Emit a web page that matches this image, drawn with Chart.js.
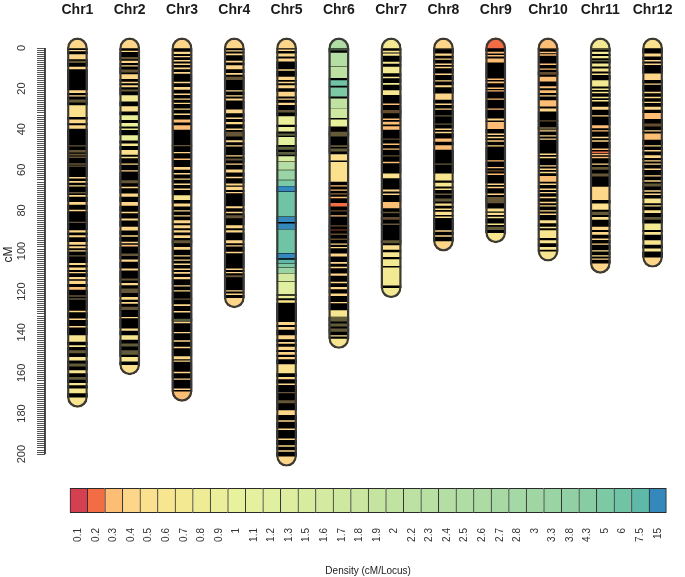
<!DOCTYPE html>
<html><head><meta charset="utf-8">
<script src="https://cdn.jsdelivr.net/npm/chart.js@4"></script>
<style>html,body{margin:0;padding:0;background:#fff;}canvas{display:block;}</style>
</head><body>
<canvas id="map" width="685" height="475"></canvas>
<canvas id="key" width="685" height="102"></canvas>
<script>
// ---------------- DATA ----------------
const chromNames = ['Chr1','Chr2','Chr3','Chr4','Chr5','Chr6','Chr7','Chr8','Chr9','Chr10','Chr11','Chr12'];
const chromLengths = [172,156,169,123,201,143,118,95,91,100,106,103];
const capTopLevel = [0.4,0.4,0.4,0.4,0.4,2.5,0.7,0.4,0.2,0.3,0.7,0.5];
const capBottomLevel = [0.6,0.5,0.3,0.4,0.4,0.6,0.7,0.4,0.6,0.6,0.4,0.4];
const cmTickLabels = [0,20,40,60,80,100,120,140,160,180,200];
const densityLevels = [0.1,0.2,0.3,0.4,0.5,0.6,0.7,0.8,0.9,1,1.1,1.2,1.3,1.5,1.6,1.7,1.8,1.9,2,2.2,2.3,2.4,2.5,2.6,2.7,2.8,3,3.3,3.8,4.3,5,6,7.5,15];

// gaps between markers: [start cM, end cM, density level, 1 = packed with markers]
const chr1Gaps = [[1.0,1.6,0.4],[3.0,5.6,0.4],[6.2,7.5,0.4,1],[9.2,10.5,0.4],[20.7,22.3,0.4],[23.2,24.0,0.4],[25.3,26.9,0.5,1],[28.1,34.1,0.5],[35.1,37.1,0.4],[37.9,39.9,0.4],[47.8,48.6,0.4,1],[50.2,51.5,0.4,1],[52,53,0.4,1],[53.4,54.3,0.4,1],[56.8,57.5,0.4,1],[57.8,58.5,0.4,1],[63.4,64.4,0.4],[65.4,66.4,0.4],[67.5,68.3,0.4],[70.8,71.8,0.4,1],[72.3,73.3,0.4],[75.7,77.3,0.4],[79.8,80.3,0.4],[85.5,86.2,0.4,1],[89.7,91,0.4],[92.1,93.3,0.4],[95.4,97,0.4],[97.5,98.7,0.4],[99.5,100.3,0.4],[102,102.8,0.4,1],[105.8,106.9,0.4],[108,109.4,0.4],[110.2,111,0.4],[112.7,114,0.4],[114.6,116.3,0.4],[117.6,119.2,0.3],[121.7,122.6,0.4,1],[123.2,124.1,0.4,1],[129.4,130.2,0.4],[133.2,134,0.4],[137,137.6,0.4],[141.4,144.7,0.6],[146.3,147.4,0.6],[148.8,150.4,0.5,1],[152.1,154,0.6],[155.3,157,0.6,1],[158.6,160.3,0.6],[161.9,163.5,0.6,1],[164.9,166.2,0.6],[167.6,170.1,0.6]];
const chr2Gaps = [[1.3,2.0,0.4],[4.3,5.6,0.4,1],[6.2,7.5,0.4],[8.4,9.2,0.4],[10.5,12.2,0.4,1],[12.8,15.4,0.4],[16.6,17.4,0.4],[18.2,19.4,0.4],[20.3,21.5,0.5,1],[23.2,26.4,0.7],[28.6,31.4,0.5],[33,35.5,0.9],[36.8,38.8,0.9],[39.6,40.4,0.8],[42.9,45.7,0.9],[46.9,48.3,0.6],[50.2,52.7,0.5],[53.5,54.3,0.5],[56.8,57.6,0.4],[60.1,60.9,0.4],[65,66.7,0.4,1],[68.3,69.1,0.4],[71.6,73.3,0.4],[75.7,77.8,0.4],[80.6,81.4,0.4],[83.9,85.1,0.4],[88,90,0.4],[92.1,93,0.4],[95.4,96.2,0.4],[96.8,97.9,0.3],[101.1,102.5,0.4,1],[104.1,105.4,0.4],[108.5,109.7,0.4],[113.4,114.6,0.4,1],[115.6,116.9,0.4],[118.4,120.8,0.4,1],[122.5,124.1,0.4],[125,126.1,0.4],[127.4,129.1,0.4,1],[132.4,133.2,0.4],[138.1,139.3,0.5],[141.4,143.8,0.6],[145.5,147.1,0.6,1],[148.8,151.2,0.6,1],[152.1,154.5,0.6]];
const chr3Gaps = [[1.8,3.0,0.4],[3.9,4.6,0.4],[5.9,6.7,0.4],[7.5,8.5,0.4],[9.5,10.5,0.4],[11.7,12.8,0.4],[16.6,17.4,0.4],[19.1,20.7,0.4],[22.3,23.2,0.4],[24.8,25.6,0.4],[26.9,27.6,0.4],[29.7,30.5,0.4],[32.2,33,0.4],[35.1,36.8,0.3],[37.9,40.4,0.3],[47.8,48.4,0.4,1],[51.1,51.9,0.4],[54.3,55.2,0.3],[58.5,60.1,0.4],[61.7,62.2,0.4],[64.2,65,0.4],[66.7,67.5,0.4],[69.1,70,0.4],[72.4,74.9,0.6],[76.5,78.2,0.4],[79.8,80.6,0.4],[82.3,83.1,0.4],[84.7,86.4,0.4],[87.2,88.8,0.4],[89.7,91,0.4],[92.1,93.7,0.4],[94.6,96.2,0.4,1],[97.9,99.5,0.4],[102,102.8,0.4],[104.1,104.8,0.4],[106.1,107,0.4],[108.5,109.4,0.4],[110.2,111.3,0.4],[112.7,114,0.4],[116.7,117.6,0.4],[119.2,120,0.4],[123.3,124.1,0.4,1],[126.1,127.1,0.4],[129.4,130.4,0.4],[133.2,134.8,1.5,1],[134.8,135.6,0.4],[139.8,140.6,0.4],[143.8,144.7,0.4],[147.1,147.9,0.4],[151.7,153.4,0.4],[153.9,154.5,0.4],[159.4,160.3,0.4],[162.7,163.5,0.4],[167.6,168.5,0.4]];
const chr4Gaps = [[1,1.8,0.4],[2.6,3.6,0.4],[6.2,7.2,0.4],[8.4,10.5,0.4],[12.2,13.3,0.4],[14.1,15.8,0.4,1],[20.7,21.5,0.4],[23.2,24,0.4],[24.8,26,0.4],[30.2,32.2,0.4],[34.1,35.1,0.4],[36.3,37.6,0.4],[39.6,40.4,0.4],[41.2,43.7,0.4,1],[45.3,46.5,0.4],[47.8,48.6,0.4],[52.7,53.5,0.4],[54.3,55.5,0.4,1],[56.8,57.6,0.4],[59.8,61.4,0.4],[63.4,64.2,0.4],[66.7,67.8,0.4],[68.3,70,0.4],[70.8,71.6,0.4],[77.8,79,0.4],[80.6,81.4,0.4],[82.3,83.9,0.4,1],[87.2,88.8,0.4],[89.7,91,0.4],[94.6,96.2,0.4],[97,97.9,0.4],[100.3,101.1,0.4],[108.5,109.4,0.4],[110.2,111,0.4],[111.8,113,0.4,1],[119.2,120,0.4],[120.8,121.7,0.4]];
const chr5Gaps = [[0.7,1.6,0.4],[2.6,4.3,0.4],[5.1,6.7,0.4],[10.5,11.2,0.4],[14.1,15.8,0.4],[16.6,17.4,0.4],[18.2,19.9,0.4],[21.5,24,0.4],[24.8,25.6,0.4],[26.9,28.1,0.4],[30.5,31.9,0.4,1],[33.5,37.9,0.9],[38.8,41.2,0.9],[42,43.3,0.9,1],[43.7,47.8,1.1],[48.6,50.2,1,1],[51.1,52.7,1,1],[53.2,56,1.5],[56,60.1,2.4],[60.1,65,3.3],[65,68,5],[68,70.8,15],[70.8,83.1,6],[83.1,85.8,15],[86.3,89.3,15],[89.3,101.1,6],[101.1,103.6,15],[104.2,106,7.5],[106,108,5],[108,111,3.3],[111,115,1.6],[115,121.4,1.2],[121.9,123.3,0.9],[124.1,125.5,0.6],[134.8,136.5,0.4],[137.3,138.9,0.4],[141.4,143.5,0.4],[144.7,145.8,0.4],[147.1,148.8,0.4],[149.6,151.2,0.4],[152.1,153.4,0.4],[155.7,160.3,0.5],[161.9,163.2,0.4],[165.2,166,0.4],[169.3,170.1,0.4,1],[173.4,175,0.4,1],[178.3,180.8,0.4],[183.3,184.1,0.4],[187.3,188.2,0.4],[192.3,193.1,0.4],[195.6,196.4,0.4],[198,198.9,0.4]];
const chr6Gaps = [[0,1.3,2.5,1],[2.3,9,2.4],[9,14.9,2.2],[15.8,18.7,6],[19.4,24,5],[24.8,30,2],[30,34.6,1.7],[35.1,38.8,1],[41.2,43.7,0.5,1],[47.8,48.9,0.5,1],[49.4,51.1,0.6,1],[52.2,55.5,0.5],[56,65.9,0.5],[67.5,68.3,0.3],[69.6,70.4,0.3],[71.3,72.4,0.3,1],[73.3,74,0.3],[76.2,78.2,0.2],[79.8,80.6,0.3,1],[82.3,83.1,0.3],[87.2,88,0.3,1],[89.3,90,0.2,1],[91.3,92.1,0.3,1],[93.7,94.6,0.3,1],[96.2,97,0.4],[97.9,98.7,0.4],[101.1,102.8,0.4],[105.3,106.4,0.4],[107.7,108.5,0.4],[111,112.3,0.4],[115.1,115.9,0.4],[117.6,118.9,0.4],[120.8,122.2,0.4],[125,125.8,0.4],[129.1,132.4,0.6],[132.4,134.8,0.6,1],[135.6,137.3,0.6,1],[138.1,139.8,0.6,1],[141.4,142.2,0.5]];
const chr7Gaps = [[1.3,2.3,0.6],[2.6,3.9,0.6],[6.7,7.9,0.6],[9.2,12.5,0.7],[14.1,14.9,0.6],[17.1,18.2,0.7],[20.7,23.2,0.6],[27.2,28.1,0.3],[30.5,32.2,0.3,1],[34.6,35.6,0.3],[36.2,37.8,0.3],[38.4,40.4,0.3],[44.5,45.3,0.3,1],[46.9,47.8,0.3],[49.4,50.2,0.3],[52.7,53.5,0.3,1],[56,56.8,0.3],[61.7,64.2,0.5],[69.6,70.8,0.4],[71.6,72.4,0.4],[75.7,79,0.3],[80.6,81.4,0.4,1],[83.1,84.7,0.3,1],[86.4,87.2,0.4,1],[94.6,96.2,0.5,1],[97,99.5,0.5],[100.5,103,0.6],[104,107.5,0.7],[108,117,0.7]];
const chr8Gaps = [[0,0.6,0.4,1],[2.6,3.9,0.4],[5.1,5.9,0.4],[7.5,8.4,0.4],[9.2,10,0.4],[12.5,13.3,0.4],[15.8,16.6,0.4],[18.2,19.4,0.4],[22.3,25.6,0.4],[27.2,28.1,0.4],[29.7,30.5,0.4],[33,33.8,0.4,1],[37.1,37.9,0.4,1],[39.6,40.4,0.4],[41.2,42,0.4],[44.5,46.2,0.3],[47.8,50.2,0.3],[56.8,57.6,0.5,1],[61.7,65.4,0.6],[66.3,68.3,0.6],[69.1,70,0.5],[71.6,72.4,0.5,1],[74,75.7,0.5,1],[76.5,77.8,0.5],[79,79.8,0.5],[80.6,82.3,0.5],[83.1,83.6,0.5],[89.7,90.5,0.4],[92.1,93,0.4]];
const chr9Gaps = [[1.8,2.8,0.3],[3.4,4.3,0.3],[5.1,7.2,0.3],[14.9,15.8,0.3],[16.4,17.4,0.3],[19.4,20.3,0.3],[20.7,21.5,0.3],[24.8,25.6,0.3],[29.7,30.5,0.3],[34.6,35.8,0.4],[36.3,40,0.3],[42,42.9,0.4],[43.7,44.5,0.4],[45.3,46.2,0.4],[47.8,48.6,0.4],[55.2,56,0.3],[58.5,59.3,0.3],[60.1,60.9,0.3,1],[61.7,62.6,0.3],[66.7,67.5,0.4],[68.3,69.1,0.4],[71.6,72.4,0.4],[73.3,76.5,0.4,1],[79,80.6,0.5],[81.1,82.3,0.5],[83.1,83.9,0.5],[86.4,87.2,0.5],[88,89.7,0.6,1]];
const chr10Gaps = [[0,0.6,0.3,1],[1.8,2.6,0.3],[3,3.9,0.3],[7.5,8.4,0.3],[10,10.8,0.3],[11.7,13.3,0.3,1],[14.1,16.6,0.3],[18.7,19.9,0.3],[20.7,22.3,0.3],[23.2,24,0.4],[25.6,28.9,0.3],[29.7,31.4,0.4],[35.5,36.3,0.3,1],[38.8,40.4,0.4,1],[40.4,41.2,0.4],[42.9,43.7,0.4],[44.5,45.3,0.4],[51.9,52.7,0.4],[53.5,54.3,0.4],[57.6,58.5,0.4],[59.3,60.1,0.4],[60.9,61.7,0.4],[63,65.9,0.3],[66.7,67.5,0.4],[69.1,70,0.4],[70.8,71.6,0.4],[73.3,74,0.4],[75.7,76.5,0.4],[77.3,78.2,0.4],[79.8,80.6,0.4],[81.4,82.3,0.4],[84.7,86.4,0.5],[88,88.8,0.5],[89.7,93.7,0.6],[94.6,96.2,0.6],[97.9,99.5,0.6]];
const chr11Gaps = [[0,1,0.7,1],[1.8,3,0.7],[3.9,5.1,0.7],[5.9,6.7,0.6,1],[7.5,9.2,0.7],[10,11.7,0.6],[12.5,13.3,0.6],[15.8,19.1,0.7],[19.9,20.7,0.7],[21.5,22.3,0.6],[24,24.8,0.6],[25.6,26.4,0.6],[28.9,30.5,0.4],[33,33.8,0.4],[37.9,39.6,0.3],[40.4,41.2,0.3],[43.7,44.5,0.4],[45.3,46.2,0.4],[49.4,50.3,0.3],[50.9,51.8,0.2],[52.2,52.7,0.3],[53.5,54.3,0.3],[56.8,57.6,0.4],[58.5,60.1,0.4,1],[61.7,63.4,0.4,1],[68.3,74.9,0.4],[76.5,79.8,0.5],[80.6,82.3,0.5,1],[83.1,84.7,0.5],[88,89.7,0.4],[90.5,92.1,0.4],[93.7,94.6,0.4],[96.2,97,0.4],[99.5,100.3,0.5],[102,102.8,0.5],[103.6,104.4,0.4]];
const chr12Gaps = [[2.6,4.3,0.4],[5.9,6.7,0.4],[7.5,8.4,0.4],[12.5,15.8,0.4],[17.4,18.2,0.4],[21.5,22.3,0.4],[24,24.8,0.4],[26.4,27.2,0.4],[28.9,30.5,0.4],[31.9,35.1,0.3],[37.1,38.8,0.3,1],[40.4,41.2,0.4],[42,45.3,0.3],[47.8,48.6,0.4],[50.2,51.1,0.4],[52.7,54.3,0.4],[55.2,56,0.4],[56.8,57.6,0.4],[59.3,60.1,0.4],[62.6,63.4,0.4],[65,65.9,0.4],[66.7,68.3,0.4,1],[70,70.8,0.4],[71.6,72.4,0.4],[74,76.5,0.6],[77.3,78.2,0.5],[79.8,81.4,0.5],[83.1,84.7,0.5,1],[86.4,89.7,0.7],[90.5,92.1,0.6],[94.6,97,0.6],[98.7,100.3,0.6]];
const chromGaps = [chr1Gaps,chr2Gaps,chr3Gaps,chr4Gaps,chr5Gaps,chr6Gaps,chr7Gaps,chr8Gaps,chr9Gaps,chr10Gaps,chr11Gaps,chr12Gaps];

// ---------------- STYLE ----------------
const densityColors = ['#d4404f','#f26c44','#fcbd74','#fdd689','#fbe08d','#f7e590','#f2e992','#eeec95','#ebef99','#e8f19c','#e5f19e','#e1f0a0','#ddeea0','#d8eca0','#d3eaa0','#cfe8a0','#cae6a0','#c5e4a0','#c0e3a1','#bce1a2','#b8e0a2','#b4dea3','#b0dda3','#acdba4','#a8d9a4','#a4d8a4','#a0d6a4','#9ad3a4','#91d0a4','#88cca4','#7dc8a5','#70c3a5','#5fb9a8','#3588bc'];
const CAP_CM = 5;          // height of rounded chromosome ends (axis units)
const BAR_PX = 20;         // chromosome width
const MARKER_HALF = 0.25;  // half thickness of a marker line (axis units)
const X_MIN = 0.38, X_MAX = 12.62;

function levelColor(level, packed) {
  const hex = densityColors[densityLevels.indexOf(level)] || '#fdd689';
  if (!packed) return hex;
  const n = parseInt(hex.slice(1), 16), f = 0.4;
  const r = Math.round(((n >> 16) & 255) * f), g = Math.round(((n >> 8) & 255) * f), b = Math.round((n & 255) * f);
  return `rgb(${r},${g},${b})`;
}

Chart.defaults.font.family = "'Liberation Sans', Arial, Helvetica, sans-serif";
Chart.defaults.color = '#333';

const capPts = [], capCols = [], bodyPts = [], gapPts = [], gapCols = [], outlinePts = [];
chromLengths.forEach((L, i) => {
  const x = i + 1;
  capPts.push({x, y: [-CAP_CM, CAP_CM]}); capCols.push(levelColor(capTopLevel[i]));
  capPts.push({x, y: [L - CAP_CM, L + CAP_CM]}); capCols.push(levelColor(capBottomLevel[i]));
  bodyPts.push({x, y: [0, L]});
  chromGaps[i].forEach(g => {
    let a = g[0] + MARKER_HALF, b = g[1] - MARKER_HALF;
    if (b - a < 0.35) { const m = (g[0] + g[1]) / 2; a = m - 0.175; b = m + 0.175; }
    gapPts.push({x, y: [a, b]}); gapCols.push(levelColor(g[2], g[3] === 1));
  });
  outlinePts.push({x, y: [-CAP_CM, L + CAP_CM]});
});

const barCommon = {type: 'bar', barThickness: BAR_PX, grouped: false, borderSkipped: false};

new Chart(document.getElementById('map'), {
  type: 'bar',
  data: {
    datasets: [
      {...barCommon, data: outlinePts, order: 0, backgroundColor: 'rgba(0,0,0,0)', borderColor: '#3a3a3a', borderWidth: 1.5, borderRadius: 10},
      {...barCommon, data: gapPts, order: 1, backgroundColor: gapCols, borderWidth: 0},
      {...barCommon, data: bodyPts, order: 2, backgroundColor: '#000', borderWidth: 0},
      {...barCommon, data: capPts, order: 3, backgroundColor: capCols, borderWidth: 0, borderRadius: 10},
      {type: 'line', data: [{x: X_MIN, y: cmTickLabels[0]}, {x: X_MIN, y: cmTickLabels[cmTickLabels.length - 1]}], order: 4, borderColor: '#333', borderWidth: 1, pointRadius: 0, clip: false}
    ]
  },
  options: {
    responsive: false, animation: false, events: [],
    plugins: {legend: {display: false}, tooltip: {enabled: false}},
    layout: {padding: 0},
    scales: {
      x: {
        type: 'linear', position: 'top', min: X_MIN, max: X_MAX, offset: false,
        afterBuildTicks: s => { s.ticks = chromNames.map((n, i) => ({value: i + 1})); },
        afterFit: s => { s.height = 33.8; s.paddingLeft = 0; s.paddingRight = 0; },
        grid: {display: false, drawTicks: false}, border: {display: false},
        ticks: {autoSkip: false, maxRotation: 0, padding: 15.5, color: '#1a1a1a', font: {size: 14, weight: 'bold'},
          callback: v => chromNames[v - 1]}
      },
      y: {
        type: 'linear', position: 'left', reverse: true, min: -7, max: 210.3,
        afterBuildTicks: s => { const t = []; for (let v = cmTickLabels[0]; v <= cmTickLabels[cmTickLabels.length - 1]; v++) t.push({value: v}); s.ticks = t; },
        afterFit: s => { s.width = 45; s.paddingTop = 0; s.paddingBottom = 0; },
        grid: {drawOnChartArea: false, drawTicks: true, tickLength: 8, color: '#555', lineWidth: 1},
        border: {display: false},
        ticks: {autoSkip: false, minRotation: 90, maxRotation: 90, crossAlign: 'center', padding: 6, color: '#333', font: {size: 11},
          callback: v => cmTickLabels.includes(v) ? String(v) : ''},
        title: {display: true, text: 'cM', color: '#222', font: {size: 12}, padding: {top: 1, bottom: 0}}
      }
    }
  }
});

new Chart(document.getElementById('key'), {
  type: 'bar',
  data: {
    labels: densityLevels.map(String),
    datasets: [{
      data: densityLevels.map(() => 1),
      backgroundColor: densityColors,
      borderColor: '#2a2a2a',
      borderWidth: c => ({top: 1.3, bottom: 1.3, left: c.dataIndex === 0 ? 1.3 : 1, right: c.dataIndex === densityLevels.length - 1 ? 1.3 : 0}),
      borderSkipped: false, barPercentage: 1, categoryPercentage: 1
    }]
  },
  options: {
    responsive: false, animation: false, events: [],
    plugins: {legend: {display: false}, tooltip: {enabled: false}},
    layout: {padding: {left: 69.7, right: 12.5, top: 13, bottom: 0}},
    scales: {
      x: {
        afterFit: s => { s.height = 64; },
        grid: {display: false, drawTicks: false}, border: {display: false},
        ticks: {autoSkip: false, minRotation: 90, maxRotation: 90, padding: 15, color: '#333', font: {size: 10}},
        title: {display: true, text: 'Density (cM/Locus)', color: '#222', font: {size: 10}, padding: {top: 0, bottom: 0}}
      },
      y: {display: false, min: 0, max: 1}
    }
  }
});
</script>
</body></html>
